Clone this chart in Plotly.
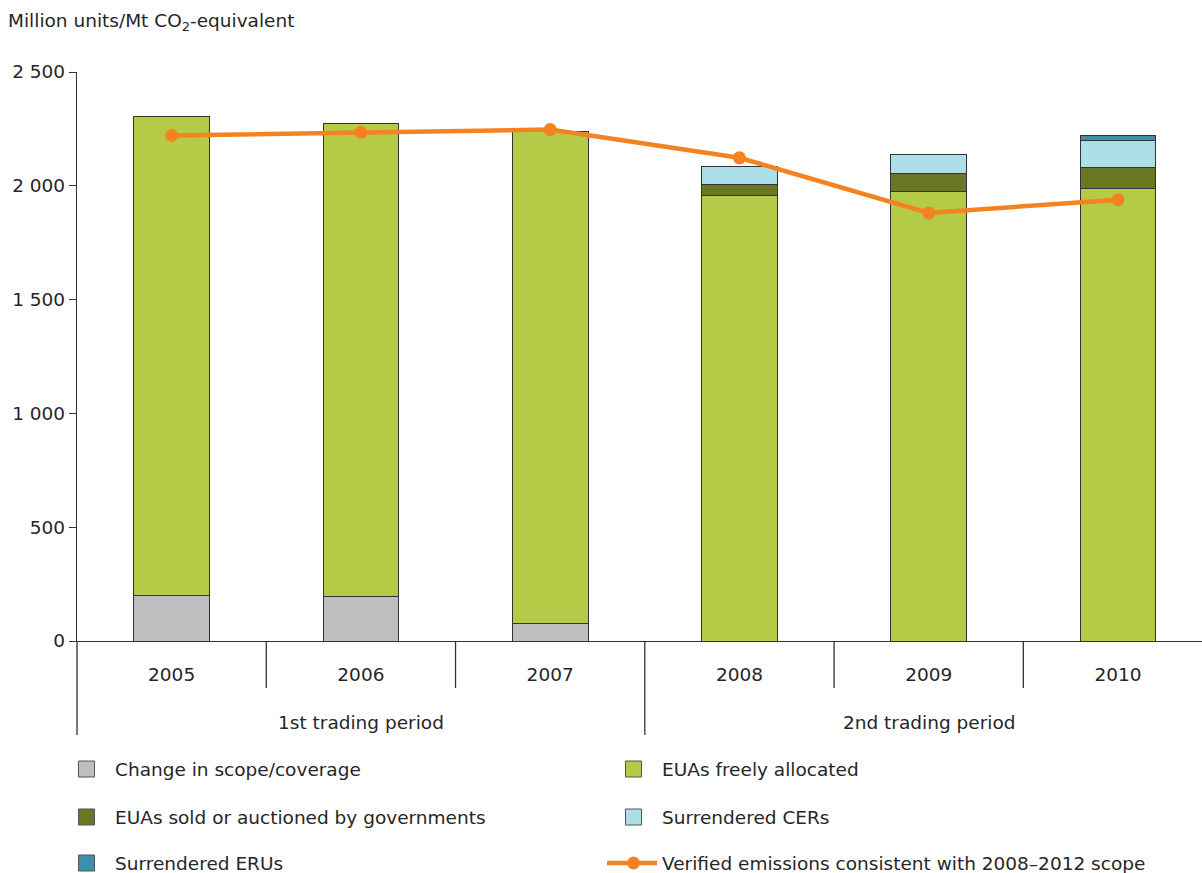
import plotly.graph_objects as go

# ---------------- data ----------------
years = ["2005", "2006", "2007", "2008", "2009", "2010"]
periods = ["1st trading period", "2nd trading period"]
period_centers = [1, 4]
scope = [202, 196, 79, None, None, None]
free = [2101, 2076, 2158, 1958, 1976, 1989]
sold = [None, None, None, 46, 78, 92]
cers = [None, None, None, 83, 83, 119]
erus = [None, None, None, None, None, 21]
verified = [2221, 2235, 2247, 2123, 1881, 1939]
ytick_vals = [0, 500, 1000, 1500, 2000, 2500]

bar_names = ["Change in scope/coverage", "EUAs freely allocated",
             "EUAs sold or auctioned by governments", "Surrendered CERs",
             "Surrendered ERUs"]
line_name = "Verified emissions consistent with 2008\u20132012 scope"
bar_colors = ["#BCBEC0", "#B5CA47", "#6B7722", "#ADDFE8", "#3E8FA8"]
line_color = "#F58220"
series = [scope, free, sold, cers, erus]

FONT = "DejaVu Sans"
FS = 18.5
TXT = "#262626"
W, H = 1202, 873
# plot area in page pixels: x 77..1202, y 72..641
L, T, R, B = 77, 72, 0, H - 641

x = list(range(len(years)))

fig = go.Figure()
for vals, name, col in zip(series, bar_names, bar_colors):
    fig.add_trace(go.Bar(x=x, y=vals, name=name, width=0.4,
                         marker=dict(color=col, line=dict(color="#333333", width=1)),
                         showlegend=False))
fig.add_trace(go.Scatter(x=x, y=verified, name=line_name, mode="lines+markers",
                         line=dict(color=line_color, width=4.5),
                         marker=dict(color=line_color, size=13),
                         showlegend=False))

plot_w = W - L - R
plot_h = H - T - B


def pxx(p):
    """page x pixel -> paper x"""
    return (p - L) / plot_w


def pyy(p):
    """page y pixel -> paper y"""
    return (H - B - p) / plot_h


shapes = []
annotations = []
# category dividers below the axis
for i in range(len(years) - 1):
    long = (i + 0.5) == 2.5
    shapes.append(dict(type="line", xref="x", yref="paper", x0=i + 0.5, x1=i + 0.5,
                       y0=0, y1=pyy(735) if long else pyy(688),
                       line=dict(color="#333333", width=1.3)))
shapes.append(dict(type="line", xref="paper", yref="paper", x0=0, x1=0,
                   y0=0, y1=pyy(735), line=dict(color="#333333", width=1.3)))

for name, c in zip(periods, period_centers):
    annotations.append(dict(x=c, y=pyy(722), xref="x", yref="paper", text=name,
                            showarrow=False, xanchor="center", yanchor="middle",
                            font=dict(family=FONT, size=FS, color=TXT)))

# manual legend
legend_rows = [769, 817, 863]
col_sw = [86.5, 633.5]
col_tx = [113, 660]
items = [(bar_names[0], bar_colors[0], 0, 0), (bar_names[1], bar_colors[1], 1, 0),
         (bar_names[2], bar_colors[2], 0, 1), (bar_names[3], bar_colors[3], 1, 1),
         (bar_names[4], bar_colors[4], 0, 2)]
s = 8
for name, col, c, r in items:
    yc = legend_rows[r]
    shapes.append(dict(type="rect", xref="paper", yref="paper",
                       x0=pxx(col_sw[c] - s), x1=pxx(col_sw[c] + s),
                       y0=pyy(yc + s), y1=pyy(yc - s), fillcolor=col,
                       line=dict(color="#555555", width=1)))
    annotations.append(dict(x=pxx(col_tx[c]), y=pyy(yc), xref="paper", yref="paper",
                            text=name, showarrow=False, xanchor="left", yanchor="middle",
                            font=dict(family=FONT, size=FS, color=TXT)))
yc = legend_rows[2]
shapes.append(dict(type="line", xref="paper", yref="paper", x0=pxx(607), x1=pxx(657),
                   y0=pyy(yc), y1=pyy(yc), line=dict(color=line_color, width=4.5)))
shapes.append(dict(type="circle", xref="paper", yref="paper", x0=pxx(627), x1=pxx(640),
                   y0=pyy(yc + 6.5), y1=pyy(yc - 6.5), fillcolor=line_color,
                   line=dict(color=line_color, width=0)))
annotations.append(dict(x=pxx(col_tx[1]), y=pyy(yc), xref="paper", yref="paper",
                        text=line_name, showarrow=False, xanchor="left", yanchor="middle",
                        font=dict(family=FONT, size=FS, color=TXT)))

fig.update_layout(
    width=W, height=H, barmode="stack",
    margin=dict(l=L, r=R, t=T, b=B, pad=0),
    paper_bgcolor="white", plot_bgcolor="white",
    separators=", ",
    font=dict(family=FONT, size=FS, color=TXT),
    title=dict(text="Million units/Mt CO<sub>2</sub>-equivalent", xref="container",
               yref="container", x=8 / W, y=1 - 21 / H, xanchor="left",
               yanchor="middle", font=dict(family=FONT, size=FS, color=TXT)),
    xaxis=dict(range=[-0.5, 5.444], tickvals=x, ticktext=years, showline=True,
               linecolor="#333333", linewidth=1.3, ticks="", showgrid=False, zeroline=False,
               ticklabelstandoff=17, tickfont=dict(family=FONT, size=FS, color=TXT)),
    yaxis=dict(range=[0, 2500], tickvals=ytick_vals, tickformat=",", showline=True,
               linecolor="#333333", linewidth=1.3, ticks="outside", ticklen=7,
               tickcolor="#333333", tickwidth=1.3, showgrid=False, zeroline=False,
               ticklabelstandoff=0, tickfont=dict(family=FONT, size=FS, color=TXT)),
    shapes=shapes, annotations=annotations, showlegend=False,
)

fig.write_html(
    "out.html",
    config={"displayModeBar": False},
    post_script="document.body.style.margin='0';"
                "document.documentElement.style.overflow='hidden';"
                "document.body.style.overflow='hidden';",
)
